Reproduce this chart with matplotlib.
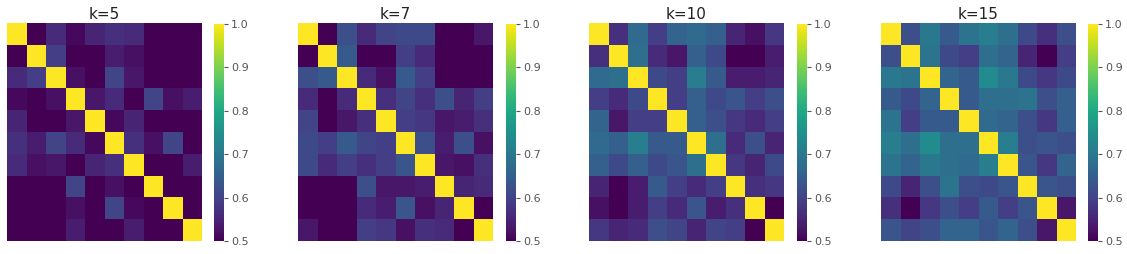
import numpy as np
import matplotlib
matplotlib.use('Agg')
from matplotlib import pyplot as plt

# similarity matrices, one per k
titles = ['k=5', 'k=7', 'k=10', 'k=15']

sim_k5 = [
    [1.00, .50, .56, .51, .55, .57, .56, .50, .50, .50],
    [.50, 1.00, .59, .50, .50, .54, .52, .50, .50, .50],
    [.56, .59, 1.00, .52, .50, .60, .53, .50, .50, .50],
    [.51, .50, .52, 1.00, .53, .56, .50, .60, .52, .54],
    [.55, .50, .50, .53, 1.00, .51, .55, .50, .50, .50],
    [.57, .54, .60, .56, .51, 1.00, .57, .52, .60, .50],
    [.56, .52, .53, .50, .55, .57, 1.00, .50, .50, .54],
    [.50, .50, .50, .60, .50, .52, .50, 1.00, .50, .50],
    [.50, .50, .50, .52, .50, .60, .51, .50, 1.00, .50],
    [.50, .50, .50, .54, .50, .50, .54, .50, .50, 1.00],
]

sim_k7 = [
    [1.00, .50, .62, .56, .60, .61, .61, .50, .50, .53],
    [.50, 1.00, .64, .50, .50, .59, .56, .50, .50, .50],
    [.62, .64, 1.00, .56, .52, .64, .59, .50, .50, .50],
    [.56, .50, .56, 1.00, .57, .60, .57, .62, .55, .59],
    [.60, .50, .53, .57, 1.00, .59, .58, .53, .54, .57],
    [.61, .59, .64, .60, .59, 1.00, .62, .54, .62, .52],
    [.61, .56, .59, .57, .59, .63, 1.00, .53, .52, .57],
    [.50, .50, .50, .62, .53, .53, .54, 1.00, .55, .56],
    [.50, .50, .50, .56, .54, .63, .52, .55, 1.00, .50],
    [.53, .50, .50, .59, .58, .52, .57, .56, .50, 1.00],
]

sim_k10 = [
    [1.00, .57, .67, .59, .66, .67, .65, .55, .52, .58],
    [.57, 1.00, .68, .56, .53, .65, .61, .50, .50, .54],
    [.67, .68, 1.00, .61, .59, .71, .64, .54, .54, .55],
    [.59, .56, .61, 1.00, .59, .65, .61, .63, .59, .62],
    [.66, .53, .59, .59, 1.00, .65, .62, .58, .56, .59],
    [.67, .65, .71, .64, .64, 1.00, .68, .56, .62, .55],
    [.65, .61, .65, .61, .63, .68, 1.00, .58, .55, .61],
    [.55, .50, .54, .64, .59, .56, .59, 1.00, .57, .58],
    [.52, .50, .54, .59, .56, .63, .54, .57, 1.00, .50],
    [.58, .55, .56, .62, .60, .55, .60, .59, .50, 1.00],
]

sim_k15 = [
    [1.00, .62, .70, .64, .69, .71, .68, .61, .57, .62],
    [.62, 1.00, .69, .61, .59, .68, .66, .55, .50, .59],
    [.70, .69, 1.00, .66, .64, .74, .70, .61, .58, .61],
    [.64, .61, .66, 1.00, .64, .68, .68, .69, .62, .65],
    [.69, .59, .64, .64, 1.00, .67, .66, .62, .58, .65],
    [.71, .68, .74, .68, .68, 1.00, .71, .62, .63, .62],
    [.69, .66, .70, .68, .67, .71, 1.00, .63, .58, .66],
    [.61, .55, .62, .69, .62, .61, .63, 1.00, .63, .62],
    [.57, .50, .58, .62, .59, .64, .59, .63, 1.00, .53],
    [.63, .60, .62, .66, .66, .63, .66, .62, .53, 1.00],
]

cbar_ticks = [0.5, 0.6, 0.7, 0.8, 0.9, 1.0]

W, H = 1127, 254
fig = plt.figure(figsize=(W / 100, H / 100), dpi=100)

heat_left = [7, 298, 589, 881]
cbar_left = [214, 506, 797, 1088]
top, bottom = 23, 241

for i, mat in enumerate([sim_k5, sim_k7, sim_k10, sim_k15]):
    ax = fig.add_axes([heat_left[i] / W, 1 - bottom / H, 195 / W, (bottom - top) / H])
    m = ax.pcolormesh(np.array(mat), cmap='viridis', vmin=0.5, vmax=1.0)
    ax.set_xlim(0, 10)
    ax.set_ylim(10, 0)
    ax.set_xticks([])
    ax.set_yticks([])
    for s in ax.spines.values():
        s.set_visible(False)
    ax.set_title(titles[i], fontsize=11, color='#222222', pad=3)

    cax = fig.add_axes([cbar_left[i] / W, 1 - bottom / H, 10 / W, (bottom - top - 1) / H])
    cb = fig.colorbar(m, cax=cax, ticks=cbar_ticks)
    cb.outline.set_visible(False)
    cax.tick_params(labelsize=8, colors='#555555', length=3, width=0.8, pad=2)
    cax.set_yticklabels(['%.1f' % t for t in cbar_ticks])

fig.savefig('out.png', dpi=100)
